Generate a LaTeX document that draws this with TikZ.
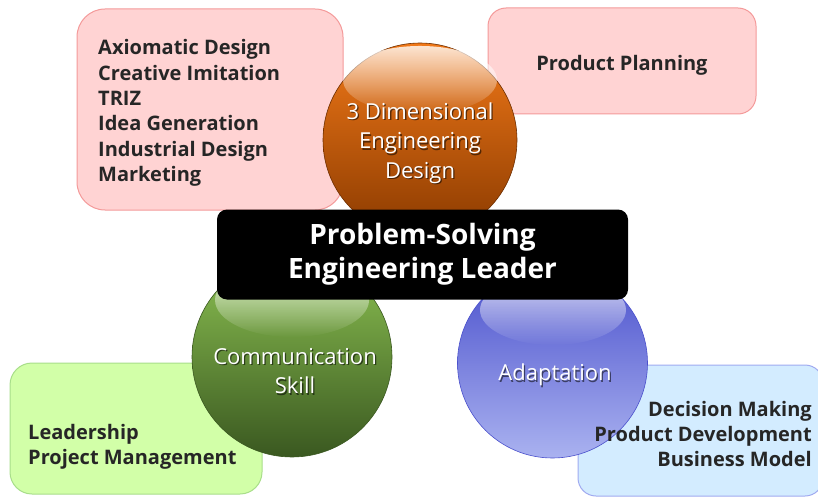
\documentclass[tikz,border=0pt]{standalone}
\usepackage{fontspec}
\setmainfont{Open Sans}
\usetikzlibrary{fadings}
\definecolor{pinkfill}{HTML}{FFD3D3}
\definecolor{pinkline}{HTML}{F49A9A}
\definecolor{greenfill}{HTML}{D2FFA8}
\definecolor{greenline}{HTML}{A8DE8A}
\definecolor{bluefill}{HTML}{D3ECFF}
\definecolor{blueline}{HTML}{A0AAF0}
\definecolor{orTop}{HTML}{F07818}
\definecolor{orMid}{HTML}{C45A08}
\definecolor{orBot}{HTML}{8A3A00}
\definecolor{grTop}{HTML}{8CC152}
\definecolor{grMid}{HTML}{5A8838}
\definecolor{grBot}{HTML}{3A5820}
\definecolor{blTop}{HTML}{4A50CC}
\definecolor{blMid}{HTML}{6E74DA}
\definecolor{blBot}{HTML}{AAB2F0}
\begin{document}
\begin{tikzpicture}[x=1pt,y=-1pt,
  boxbase/.style={rectangle, line width=1pt, inner sep=0pt},
  pinkbox/.style={boxbase, fill=pinkfill, draw=pinkline},
  greenbox/.style={boxbase, fill=greenfill, draw=greenline},
  bluebox/.style={boxbase, fill=bluefill, draw=blueline},
  boxtext/.style={inner sep=0pt, text=black!85, font=\fontsize{20}{25.3}\selectfont\bfseries},
  ball/.style={circle, inner sep=0pt, line width=0.6pt},
  balltext/.style={inner sep=0pt, align=center, text=white, font=\fontsize{22}{29.5}\selectfont},
  ballshadow/.style={balltext, text=black, text opacity=0.55},
  gloss/.style={white, fill opacity=0.8, path fading=south},
  leader/.style={rectangle, rounded corners=10pt, fill=black, inner sep=0pt,
     minimum width=411pt, minimum height=90pt, align=center, text=white,
     font=\fontsize{28}{34}\selectfont\bfseries}
]
\useasboundingbox (0,0) rectangle (818,497);
% boxes
\node[pinkbox, rounded corners=28pt, minimum width=266pt, minimum height=201pt] (tlbox) at (210,109.5) {};
\node[pinkbox, rounded corners=18pt, minimum width=268pt, minimum height=106pt] (trbox) at (622,61) {};
\node[greenbox, rounded corners=22pt, minimum width=252pt, minimum height=131pt] (blbox) at (136,428.5) {};
\node[bluebox, rounded corners=18pt, minimum width=245pt, minimum height=131pt] (brbox) at (700.5,430.5) {};
% balls
\node[ball, minimum size=194pt, top color=orTop, middle color=orMid, bottom color=orBot, draw=orBot!80!black] (orball) at (420,140) {};
\fill[gloss] (420,80) ellipse [x radius=77, y radius=34];
\node[ball, minimum size=200pt, top color=grTop, middle color=grMid, bottom color=grBot, draw=grBot] (grball) at (292,357) {};
\fill[gloss] (292,300) ellipse [x radius=77, y radius=37];
\node[ball, minimum size=190pt, top color=blTop, middle color=blMid, bottom color=blBot, draw=blTop] (blball) at (552.5,363) {};
\fill[gloss] (553,310) ellipse [x radius=73, y radius=35];
% box texts
\node[boxtext, anchor=west, align=left] (tltext) at (98,113) {Axiomatic Design\\Creative Imitation\\TRIZ\\Idea Generation\\Industrial Design\\Marketing};
\node[boxtext] (trtext) at (622,65) {Product Planning};
\node[boxtext, anchor=west, align=left] (bltext) at (28,447) {Leadership\\Project Management};
\node[boxtext, anchor=east, align=right] (brtext) at (812,434) {Decision Making\\Product Development\\Business Model};
% ball texts (with drop shadow)
\node[ballshadow] (orshadow) at (421.3,144.3) {3 Dimensional\\Engineering\\Design};
\node[balltext] (ortext) at (420,143) {3 Dimensional\\Engineering\\Design};
\node[ballshadow] (grshadow) at (296.3,372.3) {Communication\\Skill};
\node[balltext] (grtext) at (295,371) {Communication\\Skill};
\node[ballshadow] (blshadow) at (556.3,376.3) {Adaptation};
\node[balltext] (bltxt) at (555,375) {Adaptation};
% leader
\node[leader] (lead) at (422.5,254.5) {Problem-Solving\\Engineering Leader};
\end{tikzpicture}
\end{document}
